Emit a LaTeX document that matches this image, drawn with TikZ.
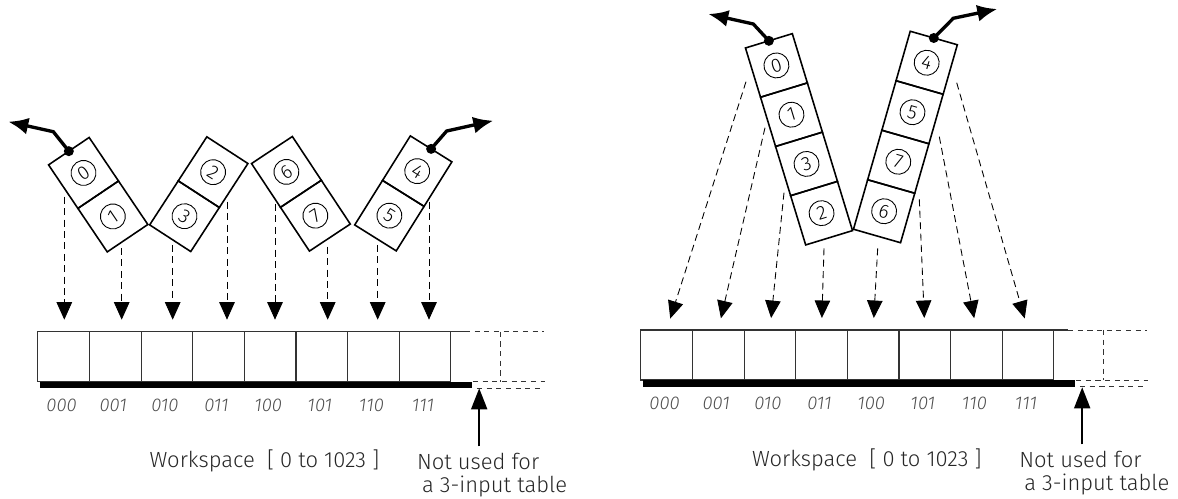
\documentclass[tikz,border=0pt]{standalone}
\usepackage{fontspec}
\setmainfont{Fira Sans}[UprightFont=* Light, ItalicFont=* Light Italic]
\usepackage{tikz}
\usetikzlibrary{arrows.meta, positioning, calc}
\definecolor{inkGray}{HTML}{262626}
\definecolor{bitGray}{HTML}{4D4D4D}

\begin{document}
\begin{tikzpicture}[x=0.02cm, y=-0.02cm,
  cell/.style={draw, line width=0.9pt, minimum width=0.98cm, minimum height=1.05cm, inner sep=0pt, outer sep=0pt,
    font=\fontsize{11}{12}\selectfont,
    path picture={\draw[line width=0.5pt] (path picture bounding box.center) circle (0.25cm);}},
  tallcell/.style={cell, minimum height=1.03cm},
  slot/.style={draw=black!80, line width=0.6pt, minimum width=1.033cm, minimum height=1cm, inner sep=0pt, outer sep=0pt},
  bits/.style={font=\fontsize{10.5}{12}\selectfont\itshape, text=bitGray},
  caption/.style={font=\fontsize{12.5}{12.8}\selectfont, text=inkGray, align=left, inner sep=0pt},
  drop/.style={dash pattern=on 4pt off 2.5pt, line width=0.5pt, shorten >=2.4mm, -{Triangle[length=3.5mm, width=3.1mm]}},
  handle/.style={line width=1.9pt, -{Latex[length=4mm, width=3.4mm]}},
  pointer/.style={line width=1pt, shorten <=1.3mm, -{Triangle[length=4.2mm, width=3.2mm]}},
  spare/.style={dash pattern=on 3pt off 2.5pt, line width=0.5pt, black!80},
]
  \useasboundingbox (0,0) rectangle (1178,499);

  % left: zigzag of 2-cell blocks
  \node[cell, rotate=34, anchor=south] (c0) at (98.2,194.7) {0};
  \node[cell, rotate=34, below=0pt of c0] (c1) {1};
  \node[cell, rotate=-33, anchor=south] (c2) at (198.8,194.2) {2};
  \node[cell, rotate=-33, below=0pt of c2] (c3) {3};
  \node[cell, rotate=33.5, anchor=south] (c6) at (300.9,193.8) {6};
  \node[cell, rotate=33.5, below=0pt of c6] (c7) {7};
  \node[cell, rotate=-32, anchor=south] (c4) at (403.3,193.4) {4};
  \node[cell, rotate=-32, below=0pt of c4] (c5) {5};

  \coordinate (outL) at (8.3,121.7);
  \coordinate (outR) at (493.3,120.7);
  \fill (c0.north) circle (0.1cm);
  \fill (c4.north) circle (0.1cm);
  \draw[handle] (c0.north) -- (53.3,131.7) -- (outL);
  \draw[handle] (c4.north) -- (446.7,131) -- (outR);

  % left workspace
  \node[slot] (sl0) at (63.6,356.7) {};
  \foreach \i [remember=\i as \prev (initially 0)] in {1,...,7}
    \node[slot, right=0pt of sl\prev] (sl\i) {};
  \draw[line width=0.6pt, black!80] (sl7.north east) -- ++(14,0);
  \draw[spare] ($(sl7.north east)+(14,0)$) -- ++(79,0);
  \draw[spare] ($(sl7.north east)+(50,0)$) -- ($(sl7.south east)+(50,0)$);
  \draw[spare] ($(sl7.south east)+(22,0)$) -- ++(72,0);
  \draw[spare] ($(sl7.south east)+(26,6.3)$) -- ++(67,0);
  \draw[line width=3.75pt] ($(sl0.south west)+(2,3.3)$) -- ($(sl7.south east)+(21,3.3)$);

  \foreach \i/\b in {0/000, 1/001, 2/010, 3/011, 4/100, 5/101, 6/110, 7/111}
    \node[bits] (bl\i) at ($(sl\i.south)+(-2,23.3)$) {\b};

  \foreach \x/\y/\s in {64.3/196.7/sl0, 121.7/248/sl1, 172.7/245/sl2, 227/201.7/sl3,
                         275/204/sl4, 327.7/246.7/sl5, 377.7/245/sl6, 429/201.7/sl7} {
    \coordinate (src) at (\x,\y);
    \draw[drop] (src) -- (src |- \s.north);
  }

  \node[caption, anchor=west] (wsL) at (149.3,461) {Workspace\ \ [ 0 to 1023 ]};
  \node[caption, anchor=north west] (nuL) at (416.7,453) {Not used for\\\hspace{1mm}a 3-input table};
  \coordinate (gapL) at ($(sl7.south east)+(28.3,6.6)$);
  \draw[pointer] (nuL.north -| gapL) -- (gapL);

  % right: two 4-cell blocks in a V
  \node[tallcell, rotate=17, anchor=south] (d1) at (799,139.3) {1};
  \node[tallcell, rotate=17, above=0pt of d1] (d0) {0};
  \node[tallcell, rotate=17, below=0pt of d1] (d3) {3};
  \node[tallcell, rotate=17, below=0pt of d3] (d2) {2};
  \node[tallcell, rotate=-16, anchor=south] (d5) at (905.4,137) {5};
  \node[tallcell, rotate=-16, above=0pt of d5] (d4) {4};
  \node[tallcell, rotate=-16, below=0pt of d5] (d7) {7};
  \node[tallcell, rotate=-16, below=0pt of d7] (d6) {6};

  \coordinate (outVL) at (708.3,14);
  \coordinate (outVR) at (997.3,9);
  \fill (d0.north) circle (0.1cm);
  \fill (d4.north) circle (0.1cm);
  \draw[handle] (d0.north) -- (753.3,24) -- (outVL);
  \draw[handle] (d4.north) -- (953.3,18.3) -- (outVR);

  % right workspace
  \node[slot] (sr0) at (666.6,355) {};
  \foreach \i [remember=\i as \prev (initially 0)] in {1,...,7}
    \node[slot, right=0pt of sr\prev] (sr\i) {};
  \draw[line width=0.6pt, black!80] (sr7.north east) -- ++(14,0);
  \draw[spare] ($(sr7.north east)+(14,0)$) -- ++(79,0);
  \draw[spare] ($(sr7.north east)+(50,0)$) -- ($(sr7.south east)+(50,0)$);
  \draw[spare] ($(sr7.south east)+(22,0)$) -- ++(72,0);
  \draw[spare] ($(sr7.south east)+(26,6.3)$) -- ++(67,0);
  \draw[line width=3.75pt] ($(sr0.south west)+(2,3.3)$) -- ($(sr7.south east)+(21,3.3)$);

  \foreach \i/\b in {0/000, 1/001, 2/010, 3/011, 4/100, 5/101, 6/110, 7/111}
    \node[bits] (br\i) at ($(sr\i.south)+(-2,23.3)$) {\b};

  \foreach \x/\y/\s in {746/81.7/sr0, 765/127.7/sr1, 784/192.7/sr2, 824/248.3/sr3,
                         877.7/248.3/sr4, 919.3/199.3/sr5, 939.3/136.7/sr6, 956.7/82.7/sr7} {
    \coordinate (src) at (\x,\y);
    \draw[drop] (src) -- (\s.north);
  }

  \node[caption, anchor=west] (wsR) at (751.7,460) {Workspace\ \ [ 0 to 1023 ]};
  \node[caption, anchor=north west] (nuR) at (1019,451) {Not used for\\\hspace{1mm}a 3-input table};
  \coordinate (gapR) at ($(sr7.south east)+(28.3,7.3)$);
  \draw[pointer] (nuR.north -| gapR) -- (gapR);
\end{tikzpicture}
\end{document}
